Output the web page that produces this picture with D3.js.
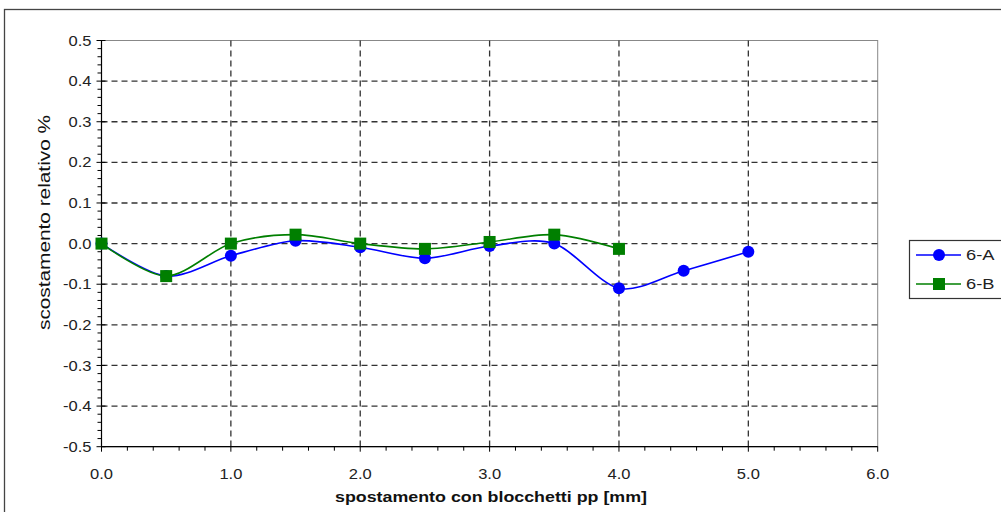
<!DOCTYPE html>
<html>
<head>
<meta charset="utf-8">
<script src="https://cdn.jsdelivr.net/npm/d3@7"></script>
<style>
  html, body { margin: 0; padding: 0; background: #fff; }
  svg { display: block; font-family: "Liberation Sans", Arial, sans-serif; }
</style>
</head>
<body>
<svg id="chart" width="1001" height="512"></svg>
<script>
// Displacement positions (mm)
const positionsA = [0, 0.5, 1.0, 1.5, 2.0, 2.5, 3.0, 3.5, 4.0, 4.5, 5.0];
const positionsB = [0, 0.5, 1.0, 1.5, 2.0, 2.5, 3.0, 3.5, 4.0];
// Relative deviation (%)
const values6A = [0, -0.08, -0.03, 0.007, -0.009, -0.036, -0.006, 0, -0.11, -0.067, -0.02];
const values6B = [0, -0.08, 0, 0.022, 0, -0.013, 0.004, 0.022, -0.013];
const seriesNames = ["6-A", "6-B"];
const xTickValues = [0, 1, 2, 3, 4, 5, 6];
const yTickValues = [0.5, 0.4, 0.3, 0.2, 0.1, 0, -0.1, -0.2, -0.3, -0.4, -0.5];

const svg = d3.select("#chart");
const plot = { left: 101.5, right: 877.7, top: 40.5, bottom: 446.7 };
const stretch = 1.18;   // wide label glyphs
const fmt = d => d.toFixed(1);

const x = d3.scaleLinear().domain([0, 6]).range([plot.left, plot.right]);
const y = d3.scaleLinear().domain([-0.5, 0.5]).range([plot.bottom, plot.top]);

// Outer frame
svg.append("rect")
  .attr("x", 4.5).attr("y", 9.5).attr("width", 1000).attr("height", 520)
  .attr("fill", "none").attr("stroke", "#444").attr("stroke-width", 1.3);

// Plot area border (top/right lighter)
svg.append("rect")
  .attr("x", plot.left).attr("y", plot.top)
  .attr("width", plot.right - plot.left).attr("height", plot.bottom - plot.top)
  .attr("fill", "#fff").attr("stroke", "#888").attr("stroke-width", 1);

// Dashed grid
const grid = svg.append("g")
  .attr("stroke", "#333").attr("stroke-width", 1.3).attr("stroke-dasharray", "6,4");
grid.selectAll("line.h")
  .data(yTickValues.filter(v => v > -0.5 && v < 0.5))
  .join("line")
  .attr("x1", plot.left).attr("x2", plot.right)
  .attr("y1", d => y(d)).attr("y2", d => y(d));
grid.selectAll("line.v")
  .data(xTickValues.filter(v => v > 0 && v < 6))
  .join("line")
  .attr("x1", d => x(d)).attr("x2", d => x(d))
  .attr("y1", plot.top).attr("y2", plot.bottom);

// Y axis: major ticks crossing the line, minor ticks outside
const yMinor = d3.range(-50, 51, 2).map(v => v / 100).filter(v => Math.round(v * 100) % 10 !== 0);
const yAxisG = svg.append("g").attr("transform", `translate(${plot.left},0)`);
yAxisG.append("line")
  .attr("x1", 0).attr("x2", 0).attr("y1", plot.top).attr("y2", plot.bottom)
  .attr("stroke", "#000").attr("stroke-width", 1.2);
yAxisG.selectAll("line.minor").data(yMinor).join("line")
  .attr("x1", -4).attr("x2", 0).attr("y1", d => y(d)).attr("y2", d => y(d))
  .attr("stroke", "#000").attr("stroke-width", 1);
yAxisG.selectAll("line.major").data(yTickValues).join("line")
  .attr("x1", -5).attr("x2", 4).attr("y1", d => y(d)).attr("y2", d => y(d))
  .attr("stroke", "#000").attr("stroke-width", 1);
yAxisG.selectAll("text").data(yTickValues).join("text")
  .attr("transform", d => `translate(-10,${y(d)}) scale(${stretch},1)`)
  .attr("dy", "0.36em")
  .attr("text-anchor", "end").attr("font-size", 14).attr("fill", "#222")
  .text(fmt);

// X axis: major and minor ticks below
const xMinor = d3.range(0, 61, 2).map(v => v / 10).filter(v => Math.round(v * 10) % 10 !== 0);
const xAxisG = svg.append("g").attr("transform", `translate(0,${plot.bottom})`);
xAxisG.append("line")
  .attr("x1", plot.left).attr("x2", plot.right).attr("y1", 0).attr("y2", 0)
  .attr("stroke", "#000").attr("stroke-width", 1.2);
xAxisG.selectAll("line.minor").data(xMinor).join("line")
  .attr("x1", d => x(d)).attr("x2", d => x(d)).attr("y1", 0).attr("y2", 4)
  .attr("stroke", "#000").attr("stroke-width", 1);
xAxisG.selectAll("line.major").data(xTickValues).join("line")
  .attr("x1", d => x(d)).attr("x2", d => x(d)).attr("y1", 0).attr("y2", 5)
  .attr("stroke", "#000").attr("stroke-width", 1);
xAxisG.selectAll("text").data(xTickValues).join("text")
  .attr("transform", d => `translate(${x(d)},32) scale(${stretch},1)`)
  .attr("text-anchor", "middle").attr("font-size", 14).attr("fill", "#222")
  .text(fmt);

// Axis titles
svg.append("text")
  .attr("x", 491).attr("y", 502)
  .attr("text-anchor", "middle").attr("font-size", 15.5).attr("font-weight", "bold")
  .attr("fill", "#111")
  .attr("textLength", 312).attr("lengthAdjust", "spacingAndGlyphs")
  .text("spostamento con blocchetti pp [mm]");
svg.append("text")
  .attr("transform", `translate(50,222.5) rotate(-90)`)
  .attr("text-anchor", "middle").attr("font-size", 16).attr("fill", "#111")
  .attr("textLength", 215).attr("lengthAdjust", "spacingAndGlyphs")
  .text("scostamento relativo %");

// Series
const line = d3.line()
  .x(d => x(d[0])).y(d => y(d[1]))
  .curve(d3.curveCardinal.tension(0.1));

const dataA = positionsA.map((p, i) => [p, values6A[i]]);
const dataB = positionsB.map((p, i) => [p, values6B[i]]);

const colorA = "#0000ff";
const colorB = "#007f00";

svg.append("path").datum(dataA).attr("d", line)
  .attr("fill", "none").attr("stroke", colorA).attr("stroke-width", 1.6);
svg.append("g").selectAll("circle").data(dataA).join("circle")
  .attr("cx", d => x(d[0])).attr("cy", d => y(d[1])).attr("r", 6)
  .attr("fill", colorA);

svg.append("path").datum(dataB).attr("d", line)
  .attr("fill", "none").attr("stroke", colorB).attr("stroke-width", 1.6);
svg.append("g").selectAll("rect").data(dataB).join("rect")
  .attr("x", d => x(d[0]) - 6).attr("y", d => y(d[1]) - 6)
  .attr("width", 12).attr("height", 12)
  .attr("fill", colorB);

// Legend
const legend = svg.append("g");
legend.append("rect")
  .attr("x", 909.5).attr("y", 240.5).attr("width", 110).attr("height", 58)
  .attr("fill", "#fff").attr("stroke", "#333").attr("stroke-width", 1.2);
const legendItems = [
  { name: seriesNames[0], color: colorA, shape: "circle", y: 255 },
  { name: seriesNames[1], color: colorB, shape: "square", y: 284 }
];
legendItems.forEach(item => {
  legend.append("line")
    .attr("x1", 916).attr("x2", 961).attr("y1", item.y).attr("y2", item.y)
    .attr("stroke", item.color).attr("stroke-width", 1.6);
  if (item.shape === "circle") {
    legend.append("circle").attr("cx", 939).attr("cy", item.y).attr("r", 6)
      .attr("fill", item.color);
  } else {
    legend.append("rect").attr("x", 933).attr("y", item.y - 6)
      .attr("width", 12).attr("height", 12).attr("fill", item.color);
  }
  legend.append("text")
    .attr("transform", `translate(966,${item.y}) scale(1.22,1)`)
    .attr("dy", "0.36em")
    .attr("font-size", 15).attr("fill", "#222")
    .text(item.name);
});
</script>
</body>
</html>
